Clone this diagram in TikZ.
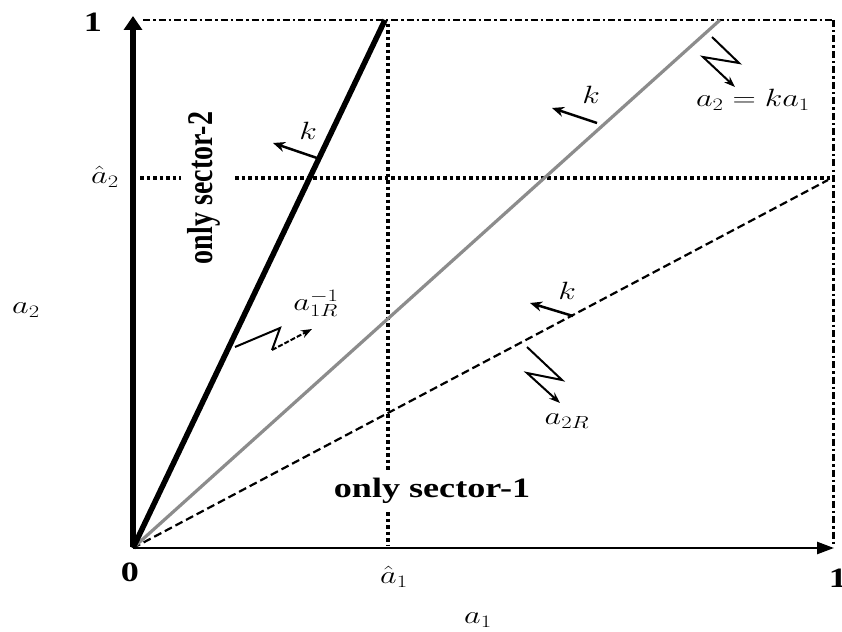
\RequirePackage{fix-cm}
\documentclass[tikz,border=0pt]{standalone}
\usepackage{fontspec}
\setmainfont{Liberation Serif}
\usetikzlibrary{arrows.meta}
\newcommand\hs[1]{\scalebox{1.29}[1]{#1}}
\begin{document}
\begin{tikzpicture}[x=1pt,y=-1pt,
  boldlab/.style={font=\fontsize{28}{30}\selectfont\bfseries, inner sep=0pt},
  mathlab/.style={font=\fontsize{25}{27}\selectfont, inner sep=0pt},
  dotline/.style={line width=3.5pt, dash pattern=on 3.5pt off 3pt},
  dashdot/.style={line width=2.5pt, dash pattern=on 7pt off 3pt on 2.5pt off 3pt},
  karrow/.style={line width=2.5pt, -{Stealth[length=12pt,width=10pt]}},
  zig/.style={line width=2pt, line join=miter, -{Stealth[length=11pt,width=8pt]}}]
\useasboundingbox (0,0) rectangle (842,631);
\fill[white] (0,0) rectangle (842,631);
% key points
\coordinate (O) at (133,548);
\coordinate (Ytop) at (133,16);
\coordinate (Xend) at (834,548);
\coordinate (TL) at (143,20);
\coordinate (TR) at (833,20);
\coordinate (BR) at (833,546);
\coordinate (B1) at (385,20);
\coordinate (G1) at (720,20);
\coordinate (D1) at (828,180);
\coordinate (V1) at (388,24);
\coordinate (V2) at (388,472);
\coordinate (V3) at (388,512);
\coordinate (V4) at (388,545);
\coordinate (H1) at (140,178);
\coordinate (H2) at (181,178);
\coordinate (H3) at (235,178);
\coordinate (H4) at (831,178);
% frame lines
\draw[dashdot] (TL) -- (TR);
\draw[dashdot, line width=3pt] (TR) -- (BR);
\draw[dotline] (V1) -- (V2);
\draw[dotline] (V3) -- (V4);
\draw[dotline] (H1) -- (H2);
\draw[dotline] (H3) -- (H4);
% rays
\draw[line width=2.2pt, dash pattern=on 8pt off 4pt] (O) -- (D1);
\draw[line width=3.2pt, black!45] (O) -- (G1);
\draw[line width=5.5pt] (O) -- (B1);
% axes
\draw[line width=2.5pt, -{Triangle[length=17pt,width=12pt]}] (O) -- (Xend);
\draw[line width=6pt, -{Triangle[length=14pt,width=18pt]}] ([yshift=1pt]O) -- (Ytop);
% axis labels
\node[boldlab] (one2) at (93,22) {\hs{1}};
\node[mathlab] (ah2) at (105,177) {\hs{$\hat{a}_2$}};
\node[mathlab] (a2) at (26,310) {\hs{$a_2$}};
\node[boldlab] (zero) at (130,572) {\hs{0}};
\node[mathlab] (ah1) at (394,577) {\hs{$\hat{a}_1$}};
\node[boldlab] (one1) at (838,578) {\hs{1}};
\node[mathlab] (a1) at (478,620) {\hs{$a_1$}};
% region labels
\node[boldlab] (s2) at (204,188) {\hs{\rotatebox{90}{only sector-2}}};
\node[boldlab] (s1) at (432,491) {\hs{only sector-1}};
% k arrows
\coordinate (k1s) at (317,158); \coordinate (k1e) at (273,143);
\coordinate (k2s) at (597,123); \coordinate (k2e) at (552,108);
\coordinate (k3s) at (573,316); \coordinate (k3e) at (530,303);
\draw[karrow] (k1s) -- (k1e);
\draw[karrow] (k2s) -- (k2e);
\draw[karrow] (k3s) -- (k3e);
\node[mathlab] (k1) at (308,131) {\hs{$k$}};
\node[mathlab] (k2) at (591,95) {\hs{$k$}};
\node[mathlab] (k3) at (567,291) {\hs{$k$}};
% zigzag pointers
\coordinate (za1) at (712,37); \coordinate (za2) at (739,63);
\coordinate (za3) at (703,57); \coordinate (za4) at (735,87);
\draw[zig] (za1) -- (za2) -- (za3) -- (za4);
\node[mathlab] (eq) at (753,100) {\hs{$a_2 = ka_1$}};
\coordinate (zb1) at (527,347); \coordinate (zb2) at (562,380);
\coordinate (zb3) at (527,373); \coordinate (zb4) at (560,403);
\draw[zig] (zb1) -- (zb2) -- (zb3) -- (zb4);
\node[mathlab] (a2R) at (567,421) {\hs{$a_{2R}$}};
\coordinate (zc1) at (235,347); \coordinate (zc2) at (280,328);
\coordinate (zc3) at (272,350); \coordinate (zc4) at (312,329);
\draw[line width=2pt, line join=miter] (zc1) -- (zc2) -- (zc3);
\draw[zig, dash pattern=on 5pt off 2pt] (zc3) -- (zc4);
\node[mathlab] (a1R) at (316,303) {\hs{$a_{1R}^{-1}$}};
\end{tikzpicture}
\end{document}
